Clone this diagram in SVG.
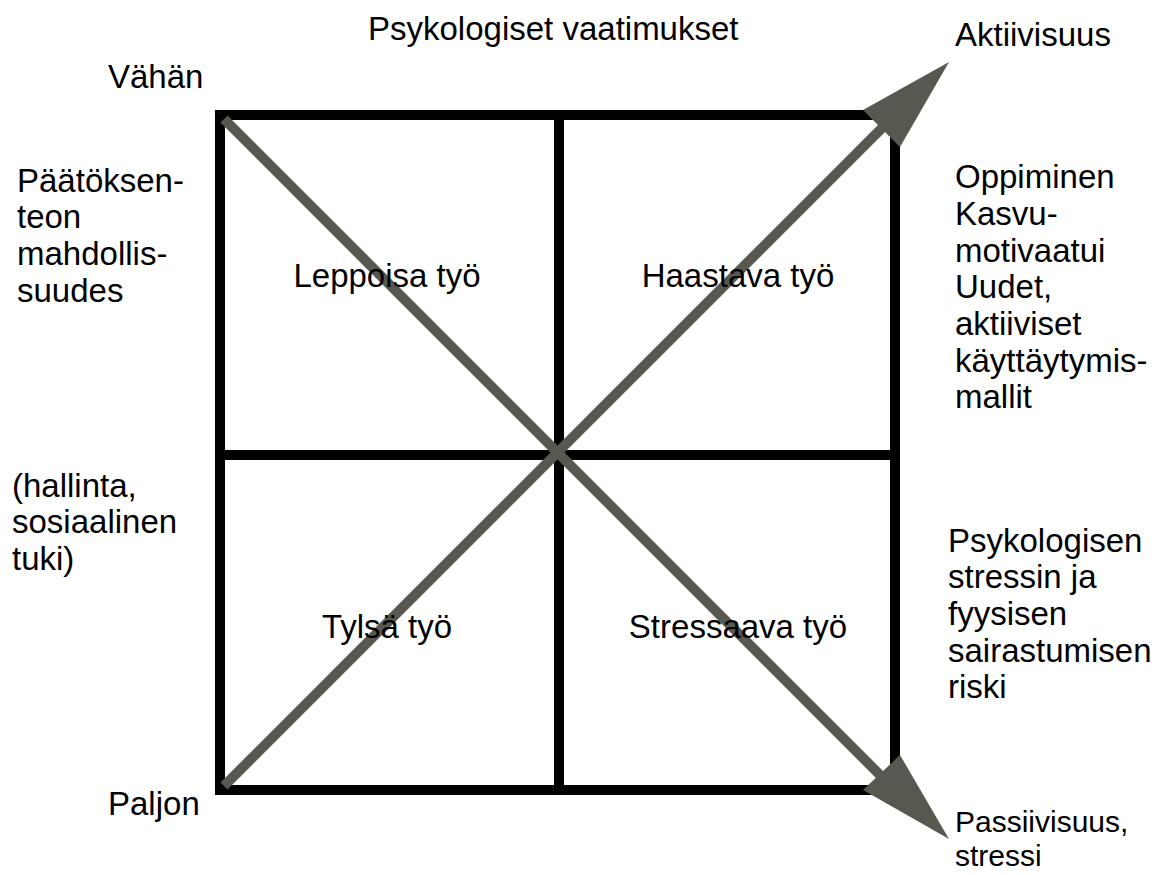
<svg xmlns="http://www.w3.org/2000/svg" width="1152" height="875" viewBox="0 0 1152 875">
<style>
text{font-family:"Liberation Sans",Arial,sans-serif;font-size:33px;fill:#000}
.c{text-anchor:middle}
.s{font-size:30px}
.grid{stroke:#000;stroke-width:10;fill:none}
.diag{stroke:#595850;stroke-width:10;fill:none}
.head{fill:#595850}
</style>
<rect width="1152" height="875" fill="#fff"/>
<g id="grid">
<rect class="grid" x="220" y="115" width="675" height="675"/>
<line class="grid" x1="559" y1="115" x2="559" y2="790"/>
<line class="grid" x1="220" y1="455" x2="895" y2="455"/>
</g>
<g id="connectors">
<line class="diag" x1="224" y1="119" x2="885" y2="780"/>
<line class="diag" x1="224" y1="786" x2="885" y2="125"/>
<polygon class="head" points="949,62 863,110 900,147"/>
<polygon class="head" points="949,839 863,790 900,755"/>
</g>
<g id="title"><text x="368" y="40">Psykologiset vaatimukset</text></g>
<g id="vahan"><text x="108" y="88">Vähän</text></g>
<g id="paljon"><text x="108" y="815">Paljon</text></g>
<g id="aktiivisuus"><text x="955" y="46">Aktiivisuus</text></g>
<g id="passiivisuus"><text class="s" x="955" y="832">Passiivisuus,</text><text class="s" x="955" y="866">stressi</text></g>
<g id="left-top">
<text x="17" y="192">Päätöksen-</text>
<text x="17" y="228">teon</text>
<text x="17" y="265">mahdollis-</text>
<text x="17" y="302">suudes</text>
</g>
<g id="left-bottom">
<text x="12" y="497">(hallinta,</text>
<text x="12" y="533">sosiaalinen</text>
<text x="12" y="570">tuki)</text>
</g>
<g id="right-top">
<text x="955" y="188">Oppiminen</text>
<text x="955" y="225">Kasvu-</text>
<text x="955" y="262">motivaatui</text>
<text x="955" y="298">Uudet,</text>
<text x="955" y="335">aktiiviset</text>
<text x="955" y="372">käyttäytymis-</text>
<text x="955" y="408">mallit</text>
</g>
<g id="right-bottom">
<text x="948" y="552">Psykologisen</text>
<text x="948" y="588">stressin ja</text>
<text x="948" y="625">fyysisen</text>
<text x="948" y="662">sairastumisen</text>
<text x="948" y="698">riski</text>
</g>
<g id="q1"><text class="c" x="387" y="287">Leppoisa työ</text></g>
<g id="q2"><text class="c" x="738" y="287">Haastava työ</text></g>
<g id="q3"><text class="c" x="387" y="638">Tylsä työ</text></g>
<g id="q4"><text class="c" x="738" y="638">Stressaava työ</text></g>
</svg>
